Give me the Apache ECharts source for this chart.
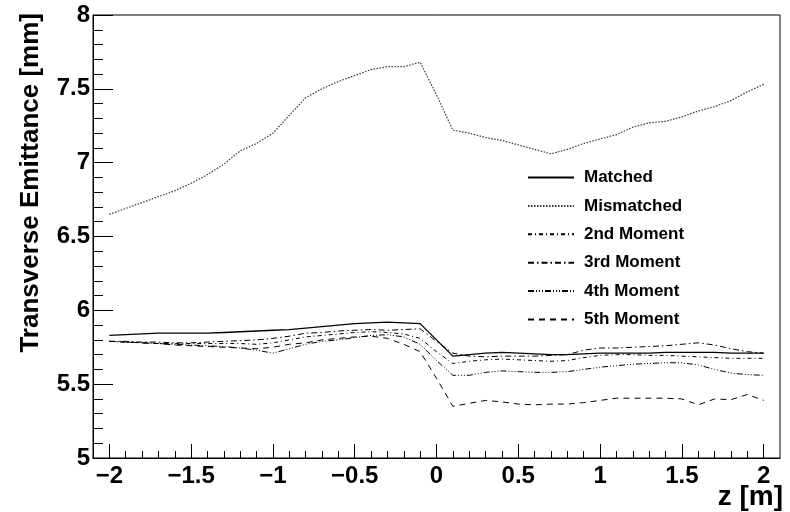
<!DOCTYPE html>
<html><head><meta charset="utf-8">
<script src="https://cdn.jsdelivr.net/npm/echarts@6/dist/echarts.min.js"></script>
<style>html,body{margin:0;padding:0;background:#fff}#c{width:790px;height:512px}</style>
</head><body><div id="c"></div>
<script>
// z positions [m]
const zValues = [-2.0,-1.9,-1.8,-1.7,-1.6,-1.5,-1.4,-1.3,-1.2,-1.1,-1.0,-0.9,-0.8,-0.7,-0.6,-0.5,-0.4,-0.3,-0.2,-0.1,
  0.0,0.1,0.2,0.3,0.4,0.5,0.6,0.7,0.8,0.9,1.0,1.1,1.2,1.3,1.4,1.5,1.6,1.7,1.8,1.9,2.0];

const matched = [5.83,5.835,5.84,5.845,5.845,5.845,5.845,5.85,5.855,5.86,5.865,5.87,5.88,5.89,5.90,5.91,5.915,5.92,5.915,5.91,
  5.80,5.69,5.70,5.71,5.715,5.71,5.705,5.70,5.70,5.705,5.71,5.71,5.71,5.71,5.715,5.715,5.715,5.715,5.71,5.71,5.71];

const mismatched = [6.65,6.69,6.73,6.77,6.81,6.86,6.92,6.99,7.08,7.13,7.20,7.32,7.44,7.50,7.55,7.59,7.63,7.65,7.65,7.68,
  7.46,7.22,7.20,7.17,7.15,7.12,7.09,7.06,7.09,7.13,7.16,7.19,7.24,7.27,7.28,7.31,7.35,7.38,7.42,7.48,7.53];

const moment2 = [5.79,5.785,5.78,5.775,5.775,5.775,5.775,5.775,5.775,5.77,5.78,5.80,5.82,5.83,5.84,5.85,5.855,5.85,5.84,5.81,
  5.72,5.64,5.655,5.665,5.67,5.665,5.66,5.655,5.66,5.68,5.695,5.70,5.70,5.695,5.695,5.69,5.685,5.68,5.675,5.675,5.675];

const moment3 = [5.79,5.79,5.785,5.785,5.78,5.78,5.785,5.79,5.795,5.80,5.81,5.825,5.845,5.85,5.86,5.865,5.87,5.865,5.87,5.875,
  5.79,5.71,5.69,5.685,5.69,5.69,5.69,5.695,5.70,5.73,5.745,5.745,5.75,5.755,5.76,5.77,5.78,5.765,5.74,5.72,5.71];

const moment4 = [5.79,5.785,5.78,5.775,5.77,5.765,5.76,5.755,5.745,5.73,5.71,5.74,5.77,5.79,5.80,5.815,5.83,5.835,5.82,5.77,
  5.66,5.56,5.56,5.58,5.59,5.585,5.58,5.58,5.585,5.60,5.615,5.625,5.635,5.64,5.645,5.645,5.63,5.60,5.575,5.565,5.56];

const moment5 = [5.79,5.785,5.78,5.775,5.765,5.76,5.755,5.75,5.745,5.74,5.75,5.77,5.78,5.80,5.81,5.82,5.825,5.81,5.77,5.72,
  5.54,5.35,5.37,5.39,5.38,5.365,5.36,5.365,5.365,5.375,5.39,5.405,5.405,5.405,5.405,5.40,5.36,5.40,5.395,5.43,5.39];

const seriesNames = ['Matched','Mismatched','2nd Moment','3rd Moment','4th Moment','5th Moment'];

const xMajorTicks = [-2,-1.5,-1,-0.5,0,0.5,1,1.5,2];
const xMinorTicks = [-2.0,-1.9,-1.8,-1.7,-1.6,-1.5,-1.4,-1.3,-1.2,-1.1,-1.0,-0.9,-0.8,-0.7,-0.6,-0.5,-0.4,-0.3,-0.2,-0.1,
  0.0,0.1,0.2,0.3,0.4,0.5,0.6,0.7,0.8,0.9,1.0,1.1,1.2,1.3,1.4,1.5,1.6,1.7,1.8,1.9,2.0];

const xTitle = 'z [m]';
const yTitle = 'Transverse Emittance [mm]';

const FONT = '"Liberation Sans", Arial, Helvetica, sans-serif';
const pair = arr => zValues.map((z, i) => [z, arr[i]]);

const styles = [
  {type: 'solid', width: 1.3, color: '#000'},
  {type: [1.5, 1.5], width: 1.2, color: '#333'},
  {type: [4, 3, 1, 3], width: 1, color: '#000'},
  {type: [6, 3, 1.5, 3], width: 1, color: '#000'},
  {type: [6, 2, 1, 2, 1, 2, 1, 2], width: 1, color: '#000'},
  {type: [6, 5], width: 1, color: '#000'}
];
const dataSets = [matched, mismatched, moment2, moment3, moment4, moment5];

const chart = echarts.init(document.getElementById('c'), null, {renderer: 'canvas'});
chart.setOption({
  animation: false,
  backgroundColor: '#fff',
  grid: {left: 93, top: 15, right: 10, bottom: 54, show: true, borderColor: '#000', borderWidth: 1, backgroundColor: 'transparent'},
  legend: {
    orient: 'vertical', left: 522, top: 164,
    itemWidth: 46, itemHeight: 14, itemGap: 11.4,
    itemStyle: {opacity: 0},
    textStyle: {fontFamily: FONT, fontWeight: 'bold', fontSize: 17, color: '#000', padding: [0, 0, 0, 5]},
    data: seriesNames
  },
  xAxis: [{
    type: 'value', min: -2.1, max: 2.1,
    axisLine: {show: true, onZero: false, lineStyle: {color: '#000', width: 1}},
    axisTick: {show: true, inside: true, length: 14, customValues: xMajorTicks, lineStyle: {color: '#000'}},
    axisLabel: {show: true, customValues: xMajorTicks, margin: 6, fontFamily: FONT, fontWeight: 'bold', fontSize: 24, color: '#000',
      formatter: v => String(v).replace('-', '\u2212')},
    splitLine: {show: false}
  }, {
    type: 'value', min: -2.1, max: 2.1, position: 'bottom',
    axisLine: {show: false},
    axisTick: {show: true, inside: true, length: 7, customValues: xMinorTicks, lineStyle: {color: '#000'}},
    axisLabel: {show: false},
    splitLine: {show: false}
  }],
  yAxis: {
    type: 'value', min: 5, max: 8, interval: 0.5,
    axisLine: {show: true, onZero: false, lineStyle: {color: '#000', width: 1}},
    axisTick: {show: true, inside: true, length: 20, lineStyle: {color: '#000'}},
    minorTick: {show: true, splitNumber: 5, length: 10, lineStyle: {color: '#000'}},
    axisLabel: {margin: 3, fontFamily: FONT, fontWeight: 'bold', fontSize: 24, color: '#000', padding: [5, 0, 0, 0]},
    splitLine: {show: false}
  },
  graphic: [
    {type: 'text', x: 31, y: 13, rotation: Math.PI / 2,
      style: {text: yTitle, font: 'bold 26px ' + FONT, fill: '#000', align: 'right', verticalAlign: 'middle'}},
    {type: 'text', x: 783, y: 497,
      style: {text: xTitle, font: 'bold 28px ' + FONT, fill: '#000', align: 'right', verticalAlign: 'middle'}}
  ],
  series: dataSets.map((d, i) => ({
    name: seriesNames[i], type: 'line', xAxisIndex: 0, data: pair(d),
    symbol: 'none', showSymbol: false, smooth: false,
    lineStyle: styles[i], itemStyle: {color: '#000'}
  }))
});
</script></body></html>
